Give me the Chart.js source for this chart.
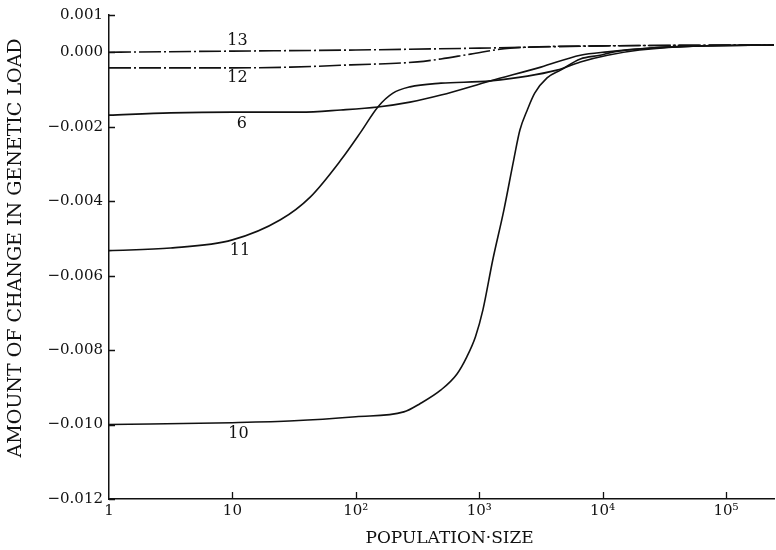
<!DOCTYPE html>
<html>
<head>
<meta charset="utf-8">
<script src="https://cdn.jsdelivr.net/npm/chart.js@4.4.1/dist/chart.umd.min.js"></script>
<style>
    html, body { margin: 0; padding: 0; background: #fff; }
    #wrap { width: 776px; height: 550px; }
</style>
</head>
<body>
<div id="wrap"><canvas id="chart"></canvas></div>
<script>
// Values: population size (N) and change in genetic load
const n13 = [1, 10, 100, 1000, 10000, 100000, 245000];
const load13 = [0.0, 0.00003, 0.00006, 0.00011, 0.00017, 0.00019, 0.00019];

const n12 = [1, 10, 29.5, 91.2, 316, 490, 851, 1778, 10000, 245000];
const load12 = [-0.00042, -0.00042, -0.00040, -0.00034, -0.00026, -0.00018, -0.00005, 0.00011, 0.00017, 0.00019];

const n6 = [1, 3.16, 10, 35.5, 75.9, 151, 275, 490, 1230, 3162, 6607, 10965, 24500, 61700, 245000];
const load6 = [-0.00169, -0.00163, -0.00161, -0.00161, -0.00155, -0.00147, -0.00134, -0.00115, -0.00077, -0.00040, -0.00008, 0.00001, 0.00011, 0.00017, 0.00019];

const n11 = [1, 3.16, 10, 24.5, 42.7, 75.9, 110, 151, 200, 275, 490, 1230, 4266, 6607, 10965, 19953, 61700, 245000];
const load11 = [-0.00533, -0.00526, -0.00504, -0.00450, -0.00389, -0.00289, -0.00214, -0.00147, -0.00110, -0.00093, -0.00083, -0.00077, -0.00048, -0.00026, -0.00008, 0.00006, 0.00017, 0.00019];

const n10 = [1, 10, 31.6, 100, 245, 331, 490, 661, 794, 933, 1072, 1288, 1585, 1905, 2138, 2455, 2818, 3548, 4571, 6607, 9550, 12300, 24500, 61700, 245000];
const load10 = [-0.01000, -0.00995, -0.00990, -0.00979, -0.00966, -0.00944, -0.00907, -0.00864, -0.00818, -0.00764, -0.00692, -0.00558, -0.00424, -0.00289, -0.00209, -0.00155, -0.00110, -0.00069, -0.00048, -0.00018, -0.00008, 0.00001, 0.00011, 0.00017, 0.00019];

// curve labels and where they sit (N, load)
const curveNames = ['13', '12', '6', '11', '10'];
const labelN = [11, 11, 11.9, 11.5, 11.2];
const labelLoad = [0.00030, -0.00070, -0.00193, -0.00534, -0.01025];

const xTicks = [1, 10, 100, 1000, 10000, 100000];
const xTickLabels = ['1', '10', '10\u00b2', '10\u00b3', '10\u2074', '10\u2075'];
const yTicks = [0.001, 0, -0.002, -0.004, -0.006, -0.008, -0.010, -0.012];

const INK = '#111';
const SERIF = "'DejaVu Serif', 'Liberation Serif', serif";

function toPoints(ns, loads) {
    return ns.map((n, i) => ({ x: n, y: loads[i] }));
}

function curve(ns, loads, dashed) {
    return {
        data: toPoints(ns, loads),
        borderColor: INK,
        borderWidth: 1.6,
        borderDash: dashed ? [22, 3, 2, 3] : [],
        pointRadius: 0,
        fill: false,
        cubicInterpolationMode: 'monotone'
    };
}

function formatLoad(v) {
    if (Math.abs(v) < 1e-9) return '0.000';
    if (v > 0) return v.toFixed(3);
    return '\u2212' + Math.abs(v).toFixed(3);
}

// tick marks point into the plot, as in the original
const inwardTicks = {
    id: 'inwardTicks',
    afterDraw(chart) {
        const { ctx, chartArea, scales } = chart;
        ctx.save();
        ctx.strokeStyle = INK;
        ctx.lineWidth = 1.3;
        ctx.beginPath();
        yTicks.forEach(v => {
            const y = Math.round(scales.y.getPixelForValue(v)) + 0.5;
            ctx.moveTo(chartArea.left, y);
            ctx.lineTo(chartArea.left + 6, y);
        });
        xTicks.slice(1).forEach(v => {
            const x = Math.round(scales.x.getPixelForValue(v)) + 0.5;
            ctx.moveTo(x, chartArea.bottom);
            ctx.lineTo(x, chartArea.bottom - 7);
        });
        ctx.stroke();
        ctx.restore();
    }
};

const curveLabels = {
    id: 'curveLabels',
    afterDatasetsDraw(chart) {
        const { ctx, scales } = chart;
        ctx.save();
        ctx.fillStyle = INK;
        ctx.font = '16px ' + SERIF;
        ctx.textAlign = 'center';
        ctx.textBaseline = 'middle';
        curveNames.forEach((name, i) => {
            ctx.fillText(name, scales.x.getPixelForValue(labelN[i]), scales.y.getPixelForValue(labelLoad[i]));
        });
        ctx.restore();
    }
};

new Chart(document.getElementById('chart'), {
    type: 'line',
    data: {
        datasets: [
            curve(n13, load13, true),
            curve(n12, load12, true),
            curve(n6, load6, false),
            curve(n11, load11, false),
            curve(n10, load10, false)
        ]
    },
    options: {
        responsive: true,
        maintainAspectRatio: false,
        devicePixelRatio: 1,
        animation: false,
        layout: { padding: { top: 15, right: 2, left: 0, bottom: 0 } },
        plugins: {
            legend: { display: false },
            tooltip: { enabled: false }
        },
        scales: {
            x: {
                type: 'logarithmic',
                min: 1,
                max: 245000,
                afterBuildTicks: (scale) => { scale.ticks = xTicks.map(v => ({ value: v })); },
                afterFit: (scale) => { scale.height = 51; },
                grid: { display: false, drawTicks: false },
                border: { display: true, color: INK, width: 1.5 },
                ticks: {
                    color: INK,
                    padding: 3,
                    maxRotation: 0,
                    autoSkip: false,
                    font: { family: SERIF, size: 15 },
                    callback: (v) => xTickLabels[xTicks.indexOf(v)]
                },
                title: {
                    display: true,
                    text: '\u00a0\u00a0\u00a0POPULATION\u00b7SIZE',
                    color: INK,
                    font: { family: SERIF, size: 17 },
                    padding: { top: 0, bottom: 1 }
                }
            },
            y: {
                min: -0.012,
                max: 0.001,
                afterBuildTicks: (scale) => { scale.ticks = yTicks.map(v => ({ value: v })); },
                afterFit: (scale) => { scale.width = 109; },
                grid: { display: false, drawTicks: false },
                border: { display: true, color: INK, width: 1.5 },
                ticks: {
                    color: INK,
                    padding: 6,
                    autoSkip: false,
                    font: { family: SERIF, size: 15 },
                    callback: (v) => formatLoad(v)
                },
                title: {
                    display: true,
                    text: '\u00a0\u00a0\u00a0AMOUNT OF CHANGE IN GENETIC LOAD',
                    color: INK,
                    font: { family: SERIF, size: 19 },
                    padding: { top: 5, bottom: 0 }
                }
            }
        }
    },
    plugins: [inwardTicks, curveLabels]
});
</script>
</body>
</html>
